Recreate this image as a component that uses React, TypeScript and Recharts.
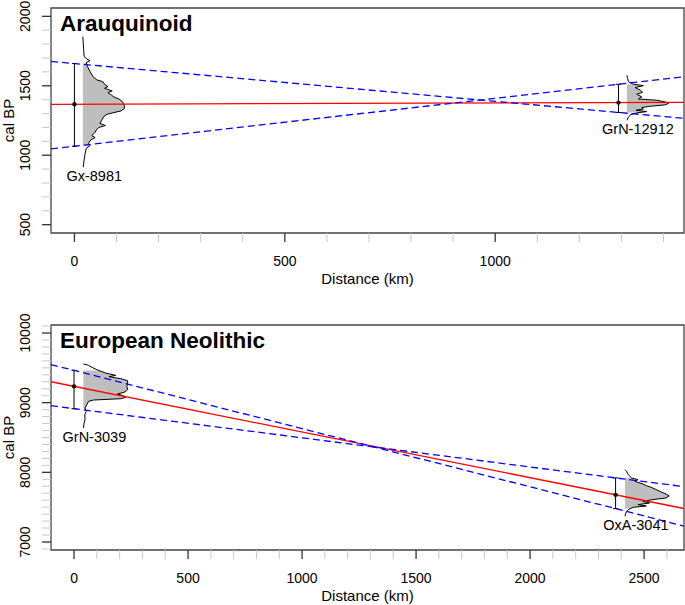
import { ComposedChart, XAxis, YAxis, Scatter, ErrorBar, ReferenceArea, Label } from "recharts"

// Arauquinoid: dated samples
const araNames = ["Gx-8981", "GrN-12912"]
const araDistance = [0, 1293]
const araMedian = [1367, 1379]
const araLow = [1065, 1308]
const araHigh = [1660, 1511]
const araXTicks = [0, 100, 200, 300, 400, 500, 600, 700, 800, 900, 1000, 1100, 1200, 1300, 1400]
const araYTicks = [500, 600, 700, 800, 900, 1000, 1100, 1200, 1300, 1400, 1500, 1600, 1700, 1800, 1900, 2000]

// calibrated densities (cal BP, relative density)
const gx8981Bp = [1854, 1770, 1710, 1693, 1681, 1667, 1638, 1602, 1566, 1542, 1530, 1511, 1494, 1482, 1463, 1451, 1434, 1420, 1405, 1386, 1362, 1338, 1319, 1307, 1295, 1278, 1254, 1230, 1214, 1199, 1182, 1158, 1141, 1127, 1110, 1086, 1070, 1050, 1015, 966, 914]
const gx8981Dens = [0, 1.6, 3, 9.5, 17, 8, 11, 17, 24, 33, 47, 51, 59, 51, 69, 59, 67, 73, 85, 93, 97, 98, 90, 73, 57, 49, 45, 40, 53, 37, 32, 27, 21, 29, 19, 13, 17, 8, 5.5, 3, 1]
const grn12912Bp = [1576, 1552, 1528, 1511, 1501, 1487, 1468, 1453, 1439, 1420, 1405, 1396, 1384, 1372, 1362, 1352, 1343, 1333, 1324, 1314, 1305, 1293, 1276, 1252]
const grn12912Dens = [0, 1.6, 4, 16, 40, 20, 33, 38, 24, 36, 28, 71, 93, 101, 91, 55, 36, 40, 22, 48, 24, 10, 4, 0]

// European Neolithic: dated samples
const eurNames = ["GrN-3039", "OxA-3041"]
const eurDistance = [0, 2375]
const eurMedian = [9234, 7677]
const eurLow = [8914, 7479]
const eurHigh = [9463, 7920]
const eurXTicks = [0, 100, 200, 300, 400, 500, 600, 700, 800, 900, 1000, 1100, 1200, 1300, 1400, 1500, 1600, 1700, 1800, 1900, 2000, 2100, 2200, 2300, 2400, 2500, 2600]
const eurYTicks = [6900, 7000, 7100, 7200, 7300, 7400, 7500, 7600, 7700, 7800, 7900, 8000, 8100, 8200, 8300, 8400, 8500, 8600, 8700, 8800, 8900, 9000, 9100, 9200, 9300, 9400, 9500, 9600, 9700, 9800, 9900, 10000, 10100]

const grn3039Bp = [9555, 9545, 9535, 9507, 9473, 9426, 9392, 9373, 9344, 9316, 9282, 9234, 9186, 9153, 9124, 9105, 9076, 9057, 9038, 9019, 8971, 8924, 8876, 8828, 8756, 8708, 8636]
const grn3039Dens = [0, 15, 22, 37, 58, 95, 139, 110, 161, 190, 190, 187, 190, 178, 146, 168, 182, 161, 44, 22, 15, 7, 12, 6, 7, 3, 0]
const oxa3041Bp = [8039, 8015, 7967, 7919, 7895, 7871, 7833, 7809, 7785, 7752, 7718, 7689, 7661, 7632, 7608, 7584, 7560, 7536, 7517, 7498, 7465, 7417, 7369]
const oxa3041Dens = [0, 7, 15, 29, 58, 44, 80, 95, 117, 139, 161, 183, 197, 183, 124, 80, 110, 58, 95, 37, 15, 4, 0]

type Pt = { x: number; y: number }

const pathOf = (pts: Pt[]) => pts.map((q, i) => `${i ? "L" : "M"}${q.x},${q.y}`).join("")

const XTick = ({ x, y, payload, major }: any) => {
  const v = payload.value
  const isMajor = v % major === 0
  return (
    <g>
      <line x1={x} x2={x} y1={y} y2={y + 9} stroke={isMajor ? "#333" : "#c8c8c8"} strokeWidth={isMajor ? 1.3 : 1} />
      {isMajor && (
        <text x={x} y={y + 33} textAnchor="middle" fontSize={14} fill="#000">
          {v}
        </text>
      )}
    </g>
  )
}

const YTick = ({ x, y, payload, major }: any) => {
  const v = payload.value
  const isMajor = v % major === 0
  return (
    <g>
      <line x1={x - 9} x2={x} y1={y} y2={y} stroke={isMajor ? "#333" : "#c8c8c8"} strokeWidth={isMajor ? 1.3 : 1} />
      {isMajor && (
        <text x={x - 21} y={y} transform={`rotate(-90 ${x - 21} ${y})`} textAnchor="middle" fontSize={14} fill="#000">
          {v}
        </text>
      )}
    </g>
  )
}

type PanelProps = {
  id: string
  title: string
  names: string[]
  distance: number[]
  median: number[]
  low: number[]
  high: number[]
  bps: number[][]
  dens: number[][]
  xDomain: [number, number]
  yDomain: [number, number]
  xTicks: number[]
  yTicks: number[]
  xMajor: number
  yMajor: number
  densWidth: number
  densOffset: number
  height: number
  marginTop: number
  xAxisHeight: number
}

function Panel(p: PanelProps) {
  const [x0, x1] = p.xDomain
  // straight line through two dated points, drawn across the whole plot
  const across = (ya: number, yb: number) => {
    const xa = p.distance[0]
    const xb = p.distance[1]
    const k = (yb - ya) / (xb - xa)
    return [
      { x: x0, y: ya + k * (x0 - xa) },
      { x: x1, y: ya + k * (x1 - xa) },
    ]
  }
  const trend = across(p.median[0], p.median[1])
  const bandA = across(p.high[0], p.low[1])
  const bandB = across(p.low[0], p.high[1])

  const outlines = p.names.map((_, i) => {
    const m = Math.max(...p.dens[i])
    const base = p.distance[i] + p.densOffset
    return p.bps[i].map((bp, j) => ({ x: base + (p.dens[i][j] / m) * p.densWidth, y: bp }))
  })
  // first and last points mark the 95% range, the rest is the density outline
  const fills = p.names.map((_, i) => {
    const base = p.distance[i] + p.densOffset
    return [{ x: base, y: p.high[i] }, ...outlines[i], { x: base, y: p.low[i] }]
  })
  const dates = p.names.map((_, i) => ({
    x: p.distance[i],
    y: p.median[i],
    err: [p.median[i] - p.low[i], p.high[i] - p.median[i]],
  }))
  const labels = p.names.map((name, i) => {
    const o = outlines[i]
    return { x: o[o.length - 1].x, y: o[o.length - 1].y, name }
  })

  const fillShape = (key: string) => (props: any) => {
    const pts: Pt[] = props.points
    const top = pts[0]
    const bot = pts[pts.length - 1]
    const body = pts.slice(1, -1)
    const d = `M${top.x},${body[0].y}` + body.map((q) => `L${q.x},${q.y}`).join("") + `L${top.x},${body[body.length - 1].y}Z`
    return (
      <g>
        <defs>
          <clipPath id={key}>
            <rect x={top.x - 2} y={top.y} width={400} height={bot.y - top.y} />
          </clipPath>
        </defs>
        <path d={d} fill="#bebebe" stroke="none" clipPath={`url(#${key})`} />
      </g>
    )
  }
  const strokeShape = (stroke: string, width: number, dash?: string) => (props: any) => (
    <path d={pathOf(props.points)} fill="none" stroke={stroke} strokeWidth={width} strokeDasharray={dash} />
  )
  const none = () => <g />

  return (
    <ComposedChart width={685} height={p.height} margin={{ top: p.marginTop, right: 1, bottom: 0, left: 0 }}>
      <XAxis
        type="number"
        dataKey="x"
        domain={p.xDomain}
        allowDataOverflow
        ticks={p.xTicks}
        interval={0}
        axisLine={false}
        tickLine={false}
        tickSize={0}
        tickMargin={0}
        height={p.xAxisHeight}
        tick={(t: any) => <XTick {...t} major={p.xMajor} />}
      >
        <Label
          content={({ viewBox }: any) => (
            <text x={viewBox.x + viewBox.width / 2} y={viewBox.y + 51} textAnchor="middle" fontSize={15} fill="#000">
              Distance (km)
            </text>
          )}
        />
      </XAxis>
      <YAxis
        type="number"
        dataKey="y"
        domain={p.yDomain}
        allowDataOverflow
        ticks={p.yTicks}
        interval={0}
        axisLine={false}
        tickLine={false}
        tickSize={0}
        tickMargin={0}
        width={51}
        tick={(t: any) => <YTick {...t} major={p.yMajor} />}
      >
        <Label
          content={({ viewBox }: any) => {
            const cx = viewBox.x + 13.5
            const cy = viewBox.y + viewBox.height / 2
            return (
              <text x={cx} y={cy} transform={`rotate(-90 ${cx} ${cy})`} textAnchor="middle" fontSize={15} fill="#000">
                cal BP
              </text>
            )
          }}
        />
      </YAxis>
      <ReferenceArea x1={p.xDomain[0]} x2={p.xDomain[1]} y1={p.yDomain[0]} y2={p.yDomain[1]} fill="none" stroke="#444" strokeWidth={1.3} ifOverflow="visible" />
      {fills.map((f, i) => (
        <Scatter key={`f${i}`} data={f} shape={none} line={fillShape(`${p.id}-clip-${i}`)} isAnimationActive={false} />
      ))}
      {outlines.map((o, i) => (
        <Scatter key={`o${i}`} data={o} shape={none} line={strokeShape("#000", 1)} isAnimationActive={false} />
      ))}
      <Scatter data={trend} shape={none} line={strokeShape("#ff0000", 1.3)} isAnimationActive={false} />
      <Scatter data={bandA} shape={none} line={strokeShape("#0000ff", 1.3, "7 4")} isAnimationActive={false} />
      <Scatter data={bandB} shape={none} line={strokeShape("#0000ff", 1.3, "7 4")} isAnimationActive={false} />
      <Scatter
        data={dates}
        shape={(s: any) => <circle cx={s.cx} cy={s.cy} r={2.2} fill="#111" />}
        isAnimationActive={false}
      >
        <ErrorBar dataKey="err" direction="y" width={2.5} stroke="#000" strokeWidth={1} />
      </Scatter>
      <Scatter
        data={labels}
        shape={(s: any) => (
          <text x={s.cx + 11} y={s.cy + 14} textAnchor="middle" fontSize={14.5} fill="#000">
            {s.payload.name}
          </text>
        )}
        isAnimationActive={false}
      />
      <Scatter
        data={[{ x: p.xDomain[0], y: p.yDomain[1] }]}
        shape={(s: any) => (
          <text x={s.cx + 9} y={s.cy + 23} fontSize={22.5} fontWeight="bold" fill="#000">
            {p.title}
          </text>
        )}
        isAnimationActive={false}
      />
    </ComposedChart>
  )
}

export default function App() {
  return (
    <div
      style={{
        position: "absolute",
        left: 0,
        top: 0,
        width: 685,
        height: 605,
        background: "#fff",
        fontFamily: "'Liberation Sans', Arial, Helvetica, sans-serif",
      }}
    >
      <div style={{ position: "absolute", left: 0, top: 0 }}>
        <Panel
          id="ara"
          title="Arauquinoid"
          names={araNames}
          distance={araDistance}
          median={araMedian}
          low={araLow}
          high={araHigh}
          bps={[gx8981Bp, grn12912Bp]}
          dens={[gx8981Dens, grn12912Dens]}
          xDomain={[-55.7, 1448.7]}
          yDomain={[440, 2060]}
          xTicks={araXTicks}
          yTicks={araYTicks}
          xMajor={500}
          yMajor={500}
          densWidth={99}
          densOffset={20}
          height={300}
          marginTop={8}
          xAxisHeight={67}
        />
      </div>
      <div style={{ position: "absolute", left: 0, top: 300 }}>
        <Panel
          id="eur"
          title="European Neolithic"
          names={eurNames}
          distance={eurDistance}
          median={eurMedian}
          low={eurLow}
          high={eurHigh}
          bps={[grn3039Bp, oxa3041Bp]}
          dens={[grn3039Dens, oxa3041Dens]}
          xDomain={[-101, 2675]}
          yDomain={[6885, 10115]}
          xTicks={eurXTicks}
          yTicks={eurYTicks}
          xMajor={500}
          yMajor={1000}
          densWidth={194}
          densOffset={41}
          height={305}
          marginTop={25}
          xAxisHeight={55}
        />
      </div>
    </div>
  )
}
